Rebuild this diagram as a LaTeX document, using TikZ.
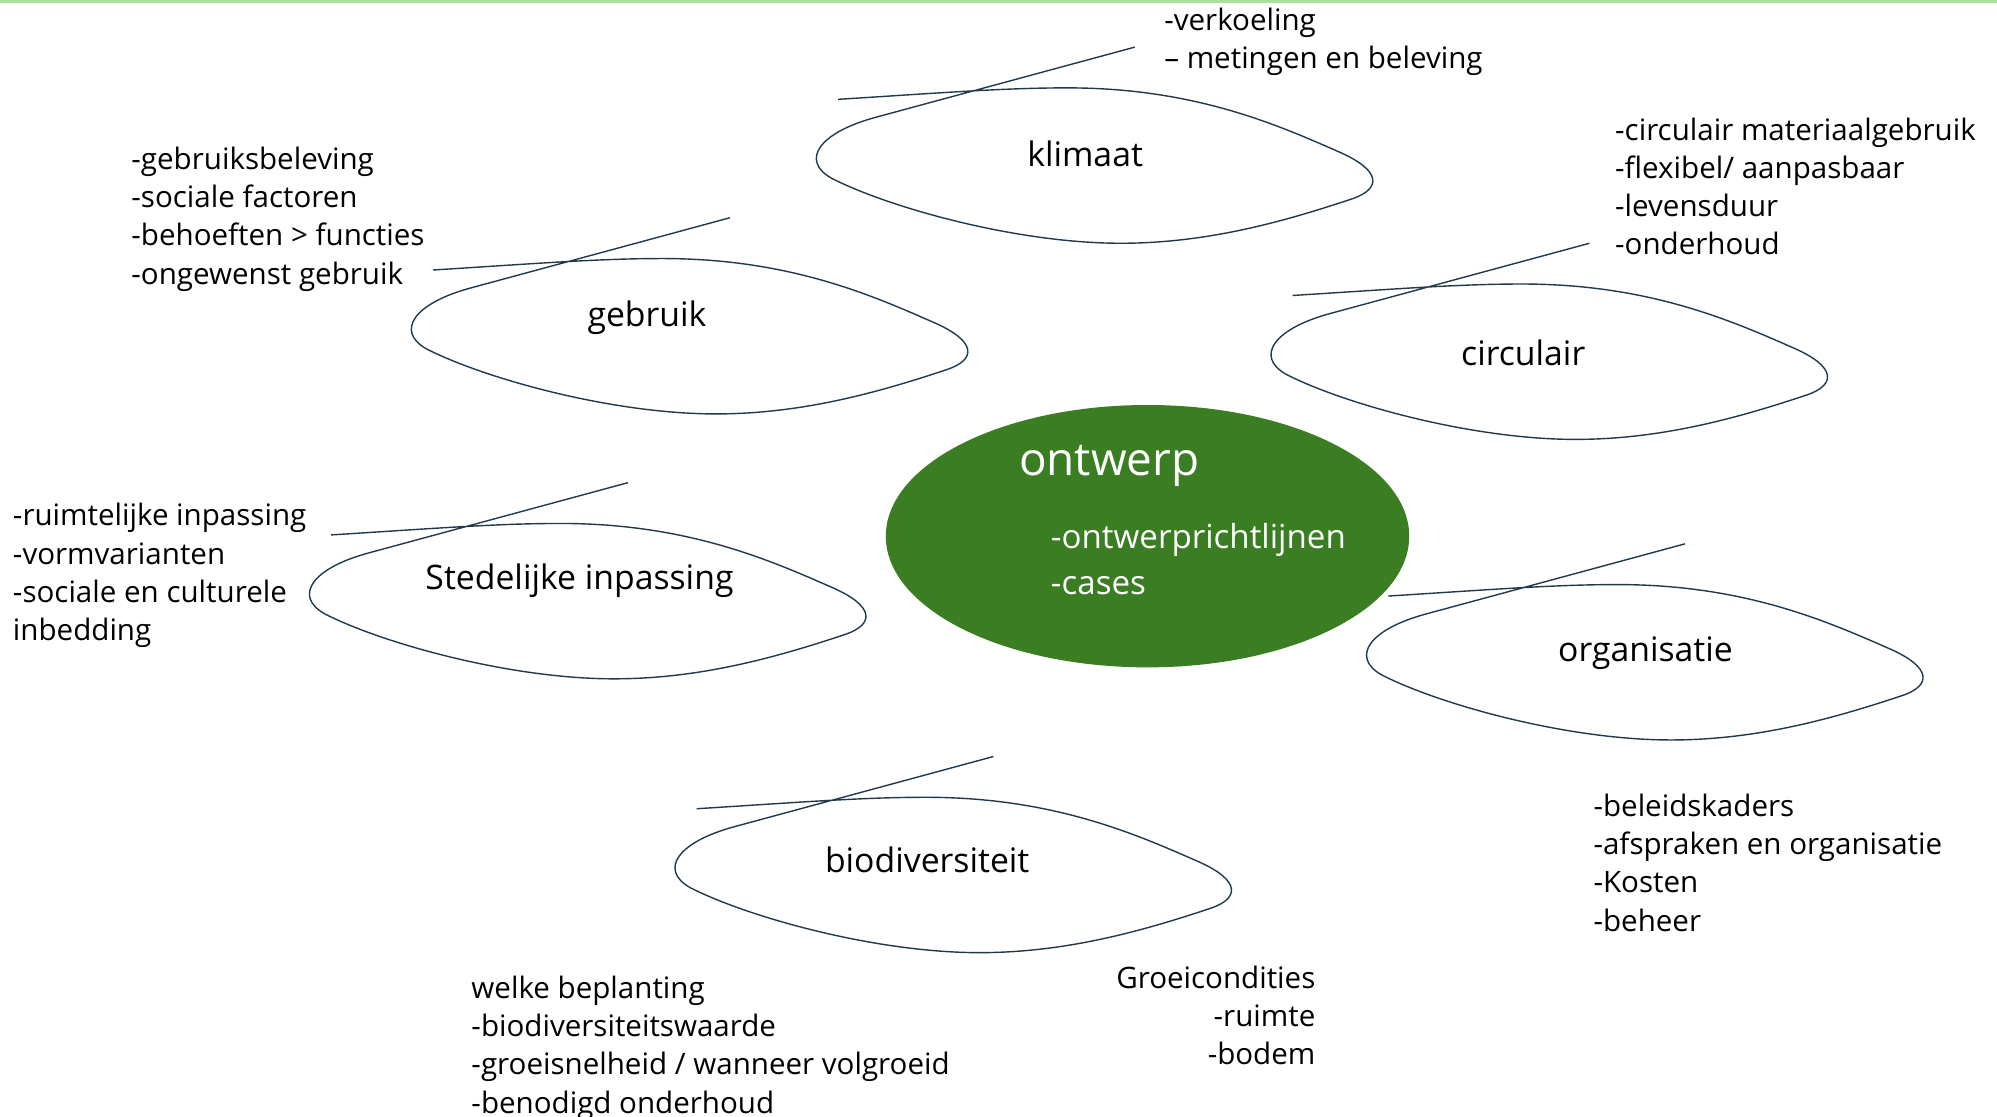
\documentclass[tikz,border=0pt]{standalone}
\usepackage{fontspec}
\setmainfont{Open Sans}
\usetikzlibrary{positioning}
\usetikzlibrary{shapes.geometric}
\definecolor{ontwerpgreen}{HTML}{3A7D22}
\definecolor{sketchline}{HTML}{203A4C}
\definecolor{topline}{HTML}{A9E19C}

\begin{document}
\begin{tikzpicture}[
    x=1pt, y=-1pt,
    sketch/.style={draw=sketchline, line width=1.1pt},
    theme/.style={inner sep=0pt, anchor=base, font=\fontsize{26.5}{32}\selectfont},
    notes/.style={inner sep=0pt, anchor=base west, align=left, font=\fontsize{23.2}{30}\selectfont},
    sketchloop/.pic={
        \draw[sketch] (0,0) .. controls (80,-5) and (130,-9) .. (180,-9)
            .. controls (280,-9) and (345,20) .. (395,42)
            .. controls (426,56) and (427,70) .. (404,78)
            .. controls (350,96) and (290,113) .. (222,113)
            .. controls (140,113) and (40,85) .. (-5,62)
            .. controls (-30,48) and (-15,26) .. (30,14)
            -- (233,-41);
    },
]
    \useasboundingbox (0,0) rectangle (1568,877);
    \draw[topline, line width=2pt] (0,1) -- (1568,1);

    \node[ellipse, fill=ontwerpgreen, minimum width=411pt, minimum height=206pt] (ON) at (901,421) {};
    \node[inner sep=0pt, anchor=base west, text=white, font=\fontsize{36}{40}\selectfont] (ONT) at (800,373) {ontwerp};
    \node[inner sep=0pt, anchor=base west, align=left, text=white, font=\fontsize{26}{36}\selectfont] (ONS) at (825,467) {-ontwerprichtlijnen\\-cases};

    \pic at (658,78) {sketchloop};
    \pic at (340,212) {sketchloop};
    \pic at (1015,232) {sketchloop};
    \pic at (260,420) {sketchloop};
    \pic at (1090,468) {sketchloop};
    \pic at (547,635) {sketchloop};

    \node[theme] (KL) at (852,131) {klimaat};
    \node[theme] (GB) at (508,256) {gebruik};
    \node[theme] (CI) at (1196,287) {circulair};
    \node[theme] (ST) at (455,463) {Stedelijke inpassing};
    \node[theme] (OR) at (1292,519) {organisatie};
    \node[theme] (BD) at (728,685) {biodiversiteit};

    \node[notes] (NKL) at (914,54) {-verkoeling\\– metingen en beleving};
    \node[notes] (NGB) at (103,223) {-gebruiksbeleving\\-sociale factoren\\-behoeften > functies\\-ongewenst gebruik};
    \node[notes] (NCI) at (1268,200) {-circulair materiaalgebruik\\-flexibel/ aanpasbaar\\-levensduur\\-onderhoud};
    \node[notes] (NST) at (10,503) {-ruimtelijke inpassing\\-vormvarianten\\-sociale en culturele\\inbedding};
    \node[notes] (NOR) at (1251,731) {-beleidskaders\\-afspraken en organisatie\\-Kosten\\-beheer};
    \node[notes] (NBD) at (370,874) {welke beplanting\\-biodiversiteitswaarde\\-groeisnelheid / wanneer volgroeid\\-benodigd onderhoud};
    \node[notes, anchor=base east, align=right] (NGC) at (1033,836) {Groeicondities\\-ruimte\\-bodem};
\end{tikzpicture}
\end{document}
